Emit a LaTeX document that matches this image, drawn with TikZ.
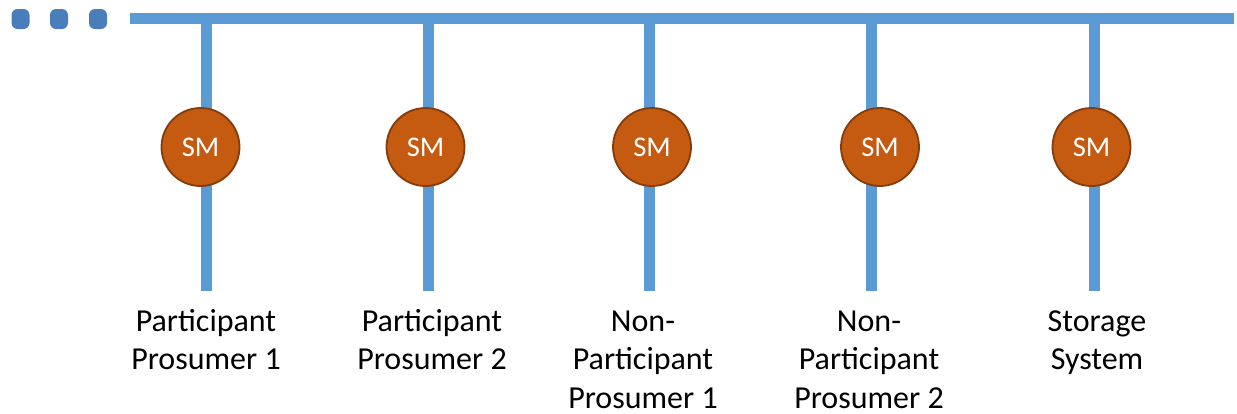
\documentclass[tikz,border=0pt]{standalone}
\usepackage{fontspec}
\setmainfont{Carlito}
\definecolor{busblue}{HTML}{5B9BD5}
\definecolor{dotblue}{HTML}{4A7EBB}
\definecolor{meterfill}{HTML}{C55A11}
\definecolor{meterline}{HTML}{843C0C}
\begin{document}
\begin{tikzpicture}[x=1pt,y=-1pt,
  wire/.style={draw=busblue,line width=11pt},
  ellipsisdot/.style={fill=dotblue,rounded corners=6pt,minimum width=18pt,minimum height=20pt,inner sep=0pt},
  meter/.style={circle,fill=meterfill,draw=meterline,line width=1.8pt,minimum size=78pt,inner sep=0pt,
    text=white,font=\fontsize{28.5}{32}\selectfont},
  caption/.style={align=center,anchor=base,font=\fontsize{32}{38.5}\selectfont}]
  \useasboundingbox (0,0) rectangle (1237,413);

  % continuation marks on the left of the bus
  \node[ellipsisdot] (d1) at (20.5,19) {};
  \node[ellipsisdot] (d2) at (59,19) {};
  \node[ellipsisdot] (d3) at (98,19) {};

  % main bus
  \coordinate (busL) at (130,18.5);
  \coordinate (busR) at (1234,18.5);
  \draw[wire] (busL) -- (busR);

  % feeders down from the bus
  \foreach \i/\x in {1/206.5,2/428.5,3/649.5,4/871.5,5/1094.5}{
    \coordinate (tap\i) at (\x,13);
    \coordinate (end\i) at (\x,290.7);
    \draw[wire] (tap\i) -- (end\i);
  }

  % smart meters
  \node[meter] (sm1) at (200.5,147) {SM};
  \node[meter] (sm2) at (425.5,147) {SM};
  \node[meter] (sm3) at (652,147) {SM};
  \node[meter] (sm4) at (880,147) {SM};
  \node[meter] (sm5) at (1091.5,147) {SM};

  % captions (base anchor sits on the last line)
  \node[caption] (c1) at (206,369.5) {Participant\\Prosumer 1};
  \node[caption] (c2) at (432,369.5) {Participant\\Prosumer 2};
  \node[caption] (c3) at (643,408) {Non-\\Participant\\Prosumer 1};
  \node[caption] (c4) at (869,408) {Non-\\Participant\\Prosumer 2};
  \node[caption] (c5) at (1097,369.5) {Storage\\System};
\end{tikzpicture}
\end{document}
